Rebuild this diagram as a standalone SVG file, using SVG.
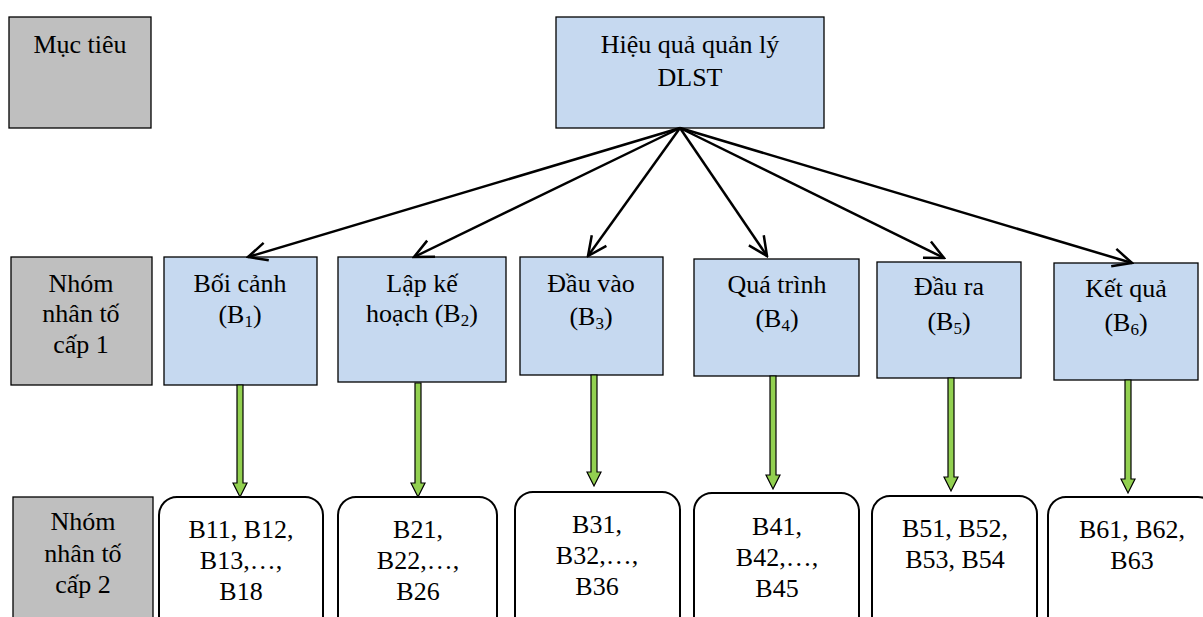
<svg xmlns="http://www.w3.org/2000/svg" width="1203" height="617" viewBox="0 0 1203 617">
<style>
.lbl{fill:#bfbfbf;stroke:#000;stroke-width:1.3}
.l1{fill:#c6d9f0;stroke:#000;stroke-width:1.3}
.l2{fill:#fff;stroke:#000;stroke-width:2}
.sub{font-size:17px}
.conn line{stroke:#000;stroke-width:2.5;fill:none}
.g{fill:#92d050;stroke:#000;stroke-width:1.2}
</style>
<defs>
<marker id="ah" markerUnits="userSpaceOnUse" markerWidth="24" markerHeight="24" viewBox="-22 -12 24 24" refX="0" refY="0" orient="auto">
<path d="M-19,-9 L0,0 L-19,9" fill="none" stroke="#000" stroke-width="2.5"/>
</marker>
</defs>
<g font-family="Liberation Serif, Times New Roman, serif" font-size="26" text-anchor="middle" fill="#000">
<g id="lbl-muctieu">
<rect class="lbl" x="9" y="17" width="142" height="111"/>
<text x="80" y="53">Mục tiêu</text>
</g>
<g id="lbl-cap1">
<rect class="lbl" x="11" y="257" width="141" height="128"/>
<text x="81" y="292">Nhóm</text>
<text x="81" y="322">nhân tố</text>
<text x="81" y="353">cấp 1</text>
</g>
<g id="lbl-cap2">
<rect class="lbl" x="13" y="497" width="140" height="150"/>
<text x="83" y="530">Nhóm</text>
<text x="83" y="562">nhân tố</text>
<text x="83" y="593">cấp 2</text>
</g>

<g id="goal">
<rect class="l1" x="556" y="17" width="268" height="111"/>
<text x="690" y="53">Hiệu quả quản lý</text>
<text x="690" y="86">DLST</text>
</g>

<g id="b1">
<rect class="l1" x="164" y="257" width="153" height="128"/>
<text x="240" y="292">Bối cảnh</text>
<text x="240" y="323">(B<tspan class="sub" dy="4">1</tspan><tspan dy="-4">)</tspan></text>
</g>
<g id="b2">
<rect class="l1" x="338" y="257" width="168" height="125"/>
<text x="422" y="292">Lập kế</text>
<text x="422" y="322">hoạch (B<tspan class="sub" dy="4">2</tspan><tspan dy="-4">)</tspan></text>
</g>
<g id="b3">
<rect class="l1" x="520" y="257" width="143" height="118"/>
<text x="591" y="292">Đầu vào</text>
<text x="591" y="325">(B<tspan class="sub" dy="4">3</tspan><tspan dy="-4">)</tspan></text>
</g>
<g id="b4">
<rect class="l1" x="694" y="259" width="165" height="117"/>
<text x="777" y="293">Quá trình</text>
<text x="777" y="327">(B<tspan class="sub" dy="4">4</tspan><tspan dy="-4">)</tspan></text>
</g>
<g id="b5">
<rect class="l1" x="877" y="262" width="144" height="116"/>
<text x="949" y="295">Đầu ra</text>
<text x="949" y="330">(B<tspan class="sub" dy="4">5</tspan><tspan dy="-4">)</tspan></text>
</g>
<g id="b6">
<rect class="l1" x="1054" y="263" width="144" height="117"/>
<text x="1126" y="297">Kết quả</text>
<text x="1126" y="331">(B<tspan class="sub" dy="4">6</tspan><tspan dy="-4">)</tspan></text>
</g>

<g id="b1x">
<rect class="l2" x="159" y="497" width="164" height="160" rx="18"/>
<text x="241" y="538">B11, B12,</text>
<text x="241" y="569">B13,…,</text>
<text x="241" y="600">B18</text>
</g>
<g id="b2x">
<rect class="l2" x="338" y="497" width="159" height="160" rx="18"/>
<text x="418" y="538">B21,</text>
<text x="418" y="569">B22,…,</text>
<text x="418" y="600">B26</text>
</g>
<g id="b3x">
<rect class="l2" x="515" y="492" width="165" height="160" rx="18"/>
<text x="597" y="533">B31,</text>
<text x="597" y="564">B32,…,</text>
<text x="597" y="595">B36</text>
</g>
<g id="b4x">
<rect class="l2" x="694" y="493" width="165" height="160" rx="18"/>
<text x="777" y="535">B41,</text>
<text x="777" y="566">B42,…,</text>
<text x="777" y="597">B45</text>
</g>
<g id="b5x">
<rect class="l2" x="872" y="496" width="165" height="160" rx="18"/>
<text x="955" y="537">B51, B52,</text>
<text x="955" y="568">B53, B54</text>
</g>
<g id="b6x">
<rect class="l2" x="1048" y="497" width="168" height="160" rx="18"/>
<text x="1132" y="538">B61, B62,</text>
<text x="1132" y="569">B63</text>
</g>
</g>
<g id="connectors" class="conn">
<line x1="680" y1="128" x2="248" y2="257" marker-end="url(#ah)"/>
<line x1="680" y1="128" x2="414" y2="257" marker-end="url(#ah)"/>
<line x1="680" y1="128" x2="588" y2="256" marker-end="url(#ah)"/>
<line x1="680" y1="128" x2="767" y2="256" marker-end="url(#ah)"/>
<line x1="680" y1="128" x2="944" y2="258" marker-end="url(#ah)"/>
<line x1="680" y1="128" x2="1132" y2="263" marker-end="url(#ah)"/>
<path class="g" d="M237,385 L243,385 L243,483 L247,483 L240,497 L233,483 L237,483 Z"/>
<path class="g" d="M415,383 L421,383 L421,483 L425,483 L418,497 L411,483 L415,483 Z"/>
<path class="g" d="M591,375 L597,375 L597,472 L601,472 L594,486 L587,472 L591,472 Z"/>
<path class="g" d="M770,376 L776,376 L776,475 L780,475 L773,489 L766,475 L770,475 Z"/>
<path class="g" d="M948,378 L954,378 L954,477 L958,477 L951,491 L944,477 L948,477 Z"/>
<path class="g" d="M1125,380 L1131,380 L1131,479 L1135,479 L1128,493 L1121,479 L1125,479 Z"/>
</g>
</svg>
